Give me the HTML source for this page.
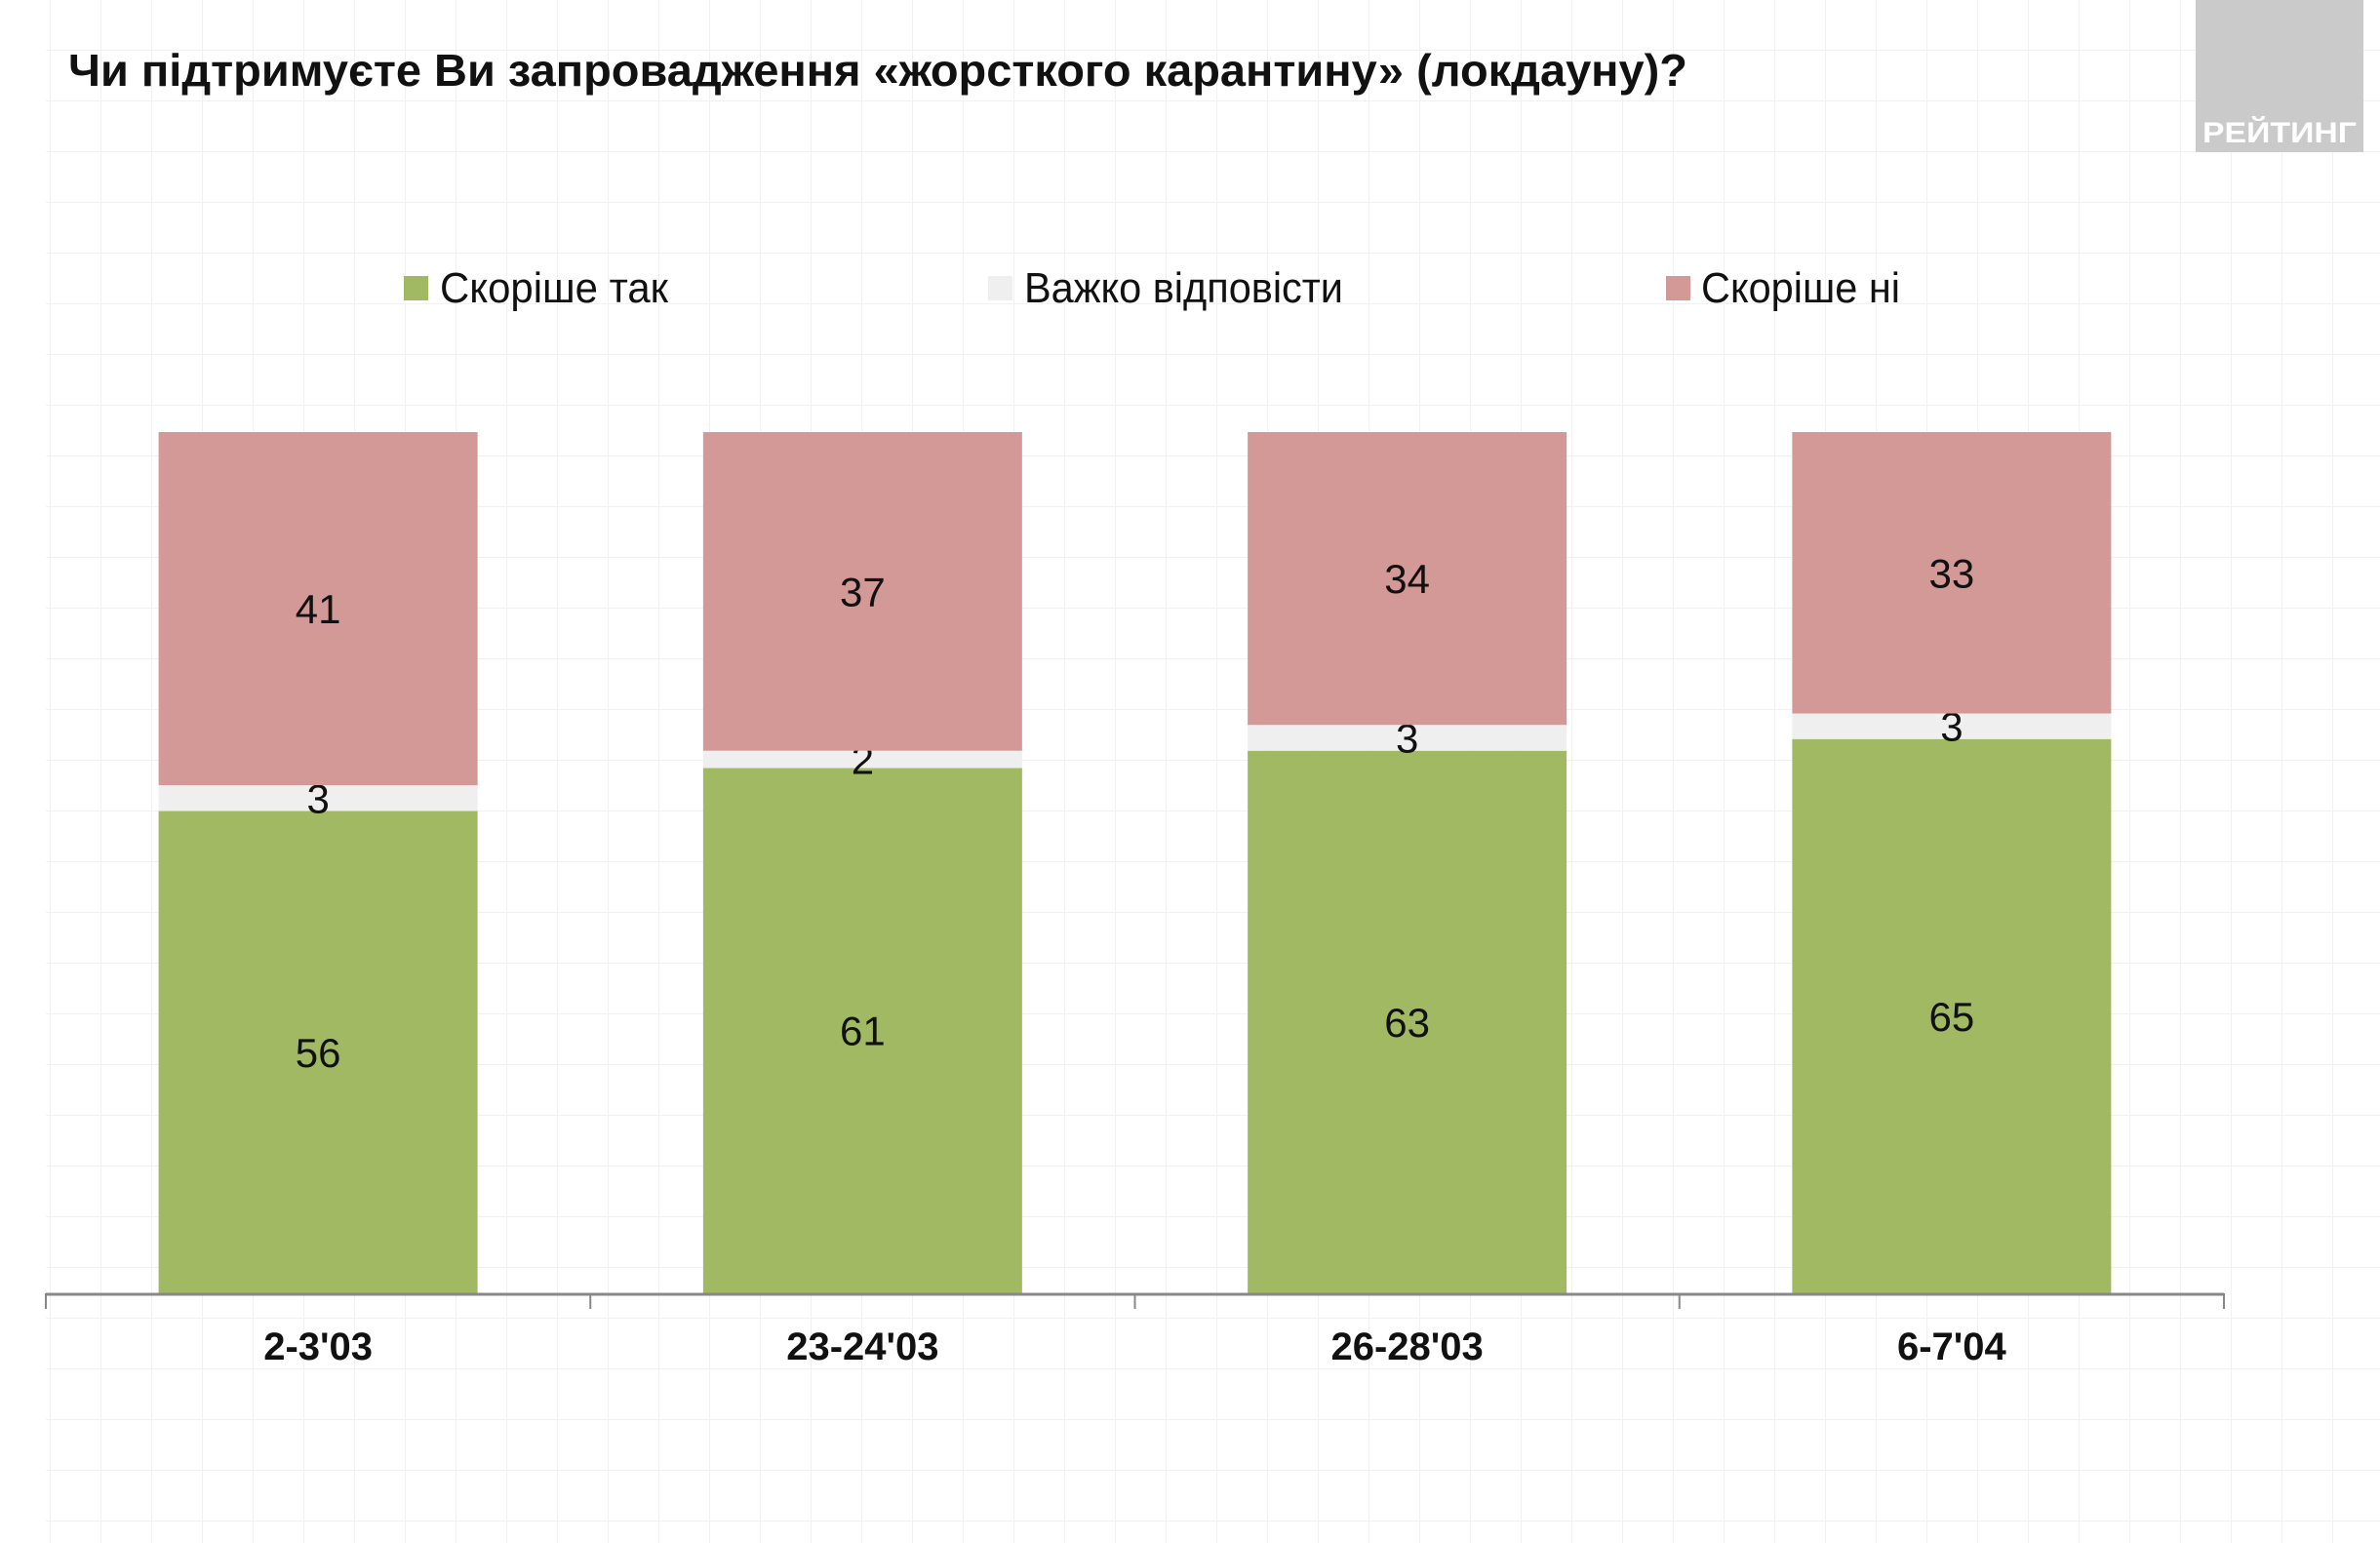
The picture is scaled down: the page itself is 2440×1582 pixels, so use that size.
<!DOCTYPE html>
<html><head><meta charset="utf-8"><style>
html,body{margin:0;padding:0;background:#fff;}
svg{display:block;}
text{font-family:"Liberation Sans Narrow","Liberation Sans","Noto Sans CJK SC",sans-serif;}
</style></head><body>
<svg id="chart" width="2440" height="1582" viewBox="0 0 2440 1582" xmlns="http://www.w3.org/2000/svg">
<defs>
<pattern id="grid" width="52" height="52" patternUnits="userSpaceOnUse">
<path d="M52 0V52M0 52H52" stroke="#f1f1f1" stroke-width="2" fill="none"/>
</pattern>
</defs>
<rect x="47" y="0" width="2393" height="1582" fill="url(#grid)"/>
<text x="70" y="88" font-size="46" font-weight="bold" fill="#111" textLength="1660" lengthAdjust="spacingAndGlyphs">Чи підтримуєте Ви запровадження «жорсткого карантину» (локдауну)?</text>
<g>
<rect x="2251" y="0" width="172" height="156" fill="#cacaca"/>
<text x="2337" y="146" font-size="30" font-weight="bold" fill="#fff" text-anchor="middle" textLength="158" lengthAdjust="spacingAndGlyphs">РЕЙТИНГ</text>
</g>
<g>
<g><rect x="414" y="283" width="25" height="25" fill="#a2b964"/><text x="451" y="310" font-size="44" fill="#111" textLength="234" lengthAdjust="spacingAndGlyphs">Скоріше так</text></g>
<g><rect x="1013" y="283" width="25" height="25" fill="#efefef"/><text x="1050" y="310" font-size="44" fill="#111" textLength="327" lengthAdjust="spacingAndGlyphs">Важко відповісти</text></g>
<g><rect x="1708" y="283" width="25" height="25" fill="#d29996"/><text x="1744" y="310" font-size="44" fill="#111" textLength="204" lengthAdjust="spacingAndGlyphs">Скоріше ні</text></g>
</g>
<g id="bars"></g>
<g id="axis"></g>
</svg>
<script>
const categories = ["2-3'03", "23-24'03", "26-28'03", "6-7'04"];
const yesValues = [56, 61, 63, 65];
const hardValues = [3, 2, 3, 3];
const noValues = [41, 37, 34, 33];

const NS = "http://www.w3.org/2000/svg";
const plotLeft = 47, plotRight = 2280, baseY = 1326, topY = 443, barW = 327;
const band = (plotRight - plotLeft) / categories.length;
function xCenter(i){ return plotLeft + band * (i + 0.5); }
function yScale(v){ return baseY - (baseY - topY) * v / 100; }
function mk(tag, attrs, parent){ const e = document.createElementNS(NS, tag); for (const k in attrs) e.setAttribute(k, attrs[k]); parent.appendChild(e); return e; }

const gb = document.getElementById('bars');
const series = [
  {vals: yesValues, color: '#a2b964', name: 'bar-yes'},
  {vals: hardValues, color: '#efefef', name: 'bar-hard-to-say'},
  {vals: noValues, color: '#d29996', name: 'bar-no'}
];
categories.forEach((c, i) => {
  const total = yesValues[i] + hardValues[i] + noValues[i];
  let cum = 0;
  series.forEach(s => {
    const v = s.vals[i] * 100 / total;
    const y0 = yScale(cum), y1 = yScale(cum + v);
    const r = mk('rect', {x: xCenter(i) - barW/2, y: y1, width: barW, height: y0 - y1, fill: s.color}, gb);
    
    
    const t = mk('text', {x: xCenter(i), y: (y0 + y1)/2 + 15, 'font-size': 42, fill: '#111', 'text-anchor': 'middle'}, gb);
    t.textContent = s.vals[i];
    
    
    cum += v;
  });
});

const ga = document.getElementById('axis');
const ax = mk('line', {x1: plotLeft, x2: plotRight, y1: baseY + 1, y2: baseY + 1, stroke: '#888', 'stroke-width': 3}, ga);


for (let i = 0; i <= categories.length; i++) {
  const x = plotLeft + band * i;
  const tk = mk('line', {x1: x, x2: x, y1: baseY, y2: baseY + 16, stroke: '#888', 'stroke-width': 2}, ga);
  
  
}
categories.forEach((c, i) => {
  const t = mk('text', {x: xCenter(i), y: 1394, 'font-size': 40, 'font-weight': 'bold', fill: '#111', 'text-anchor': 'middle'}, ga);
  t.textContent = c;
  
  
});
</script>
</body></html>
